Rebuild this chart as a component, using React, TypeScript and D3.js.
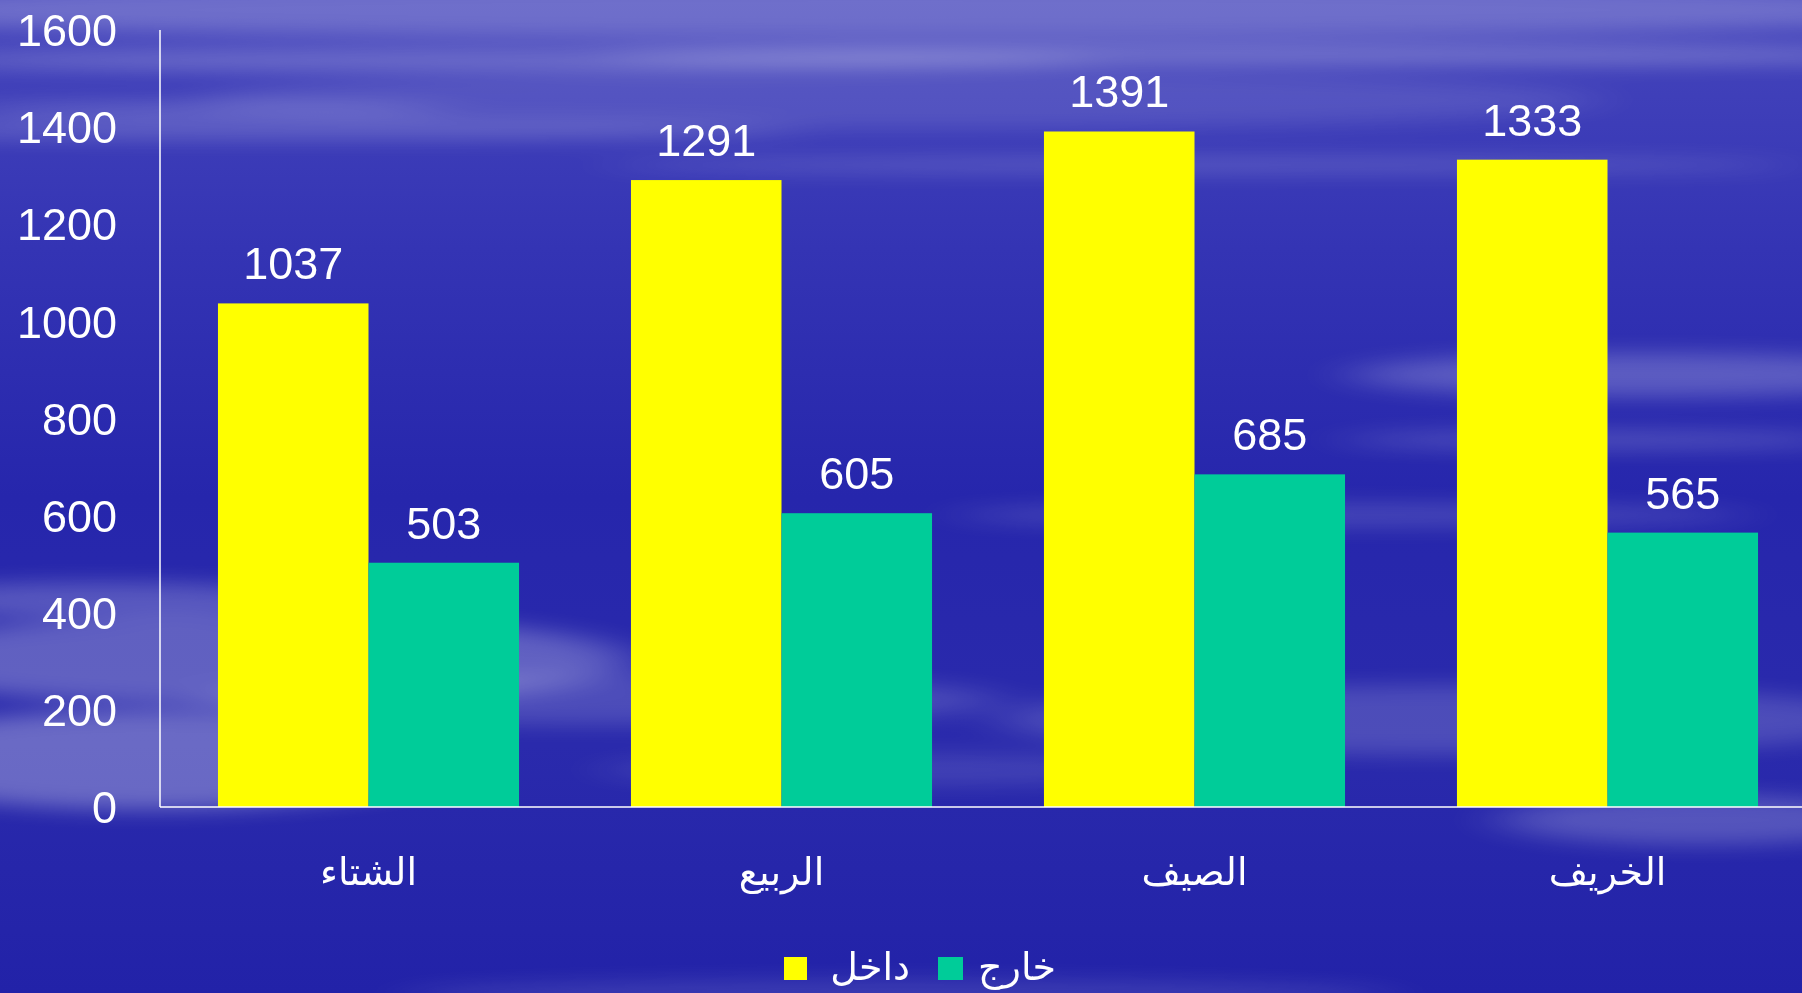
import React from "react";
import * as d3 from "d3";

const categories = ["الشتاء", "الربيع", "الصيف", "الخريف"];
const seriesNames = ["داخل", "خارج"];
const insideValues = [1037, 1291, 1391, 1333];
const outsideValues = [503, 605, 685, 565];
const yTicks = [0, 200, 400, 600, 800, 1000, 1200, 1400, 1600];
const seriesColors = ["#FFFF00", "#00CC99"];

const W = 1802;
const H = 993;

const clouds = [
  { cx: 900, cy: 10, rx: 1100, ry: 30, o: 0.3 },
  { cx: 500, cy: 60, rx: 600, ry: 10, o: 0.35 },
  { cx: 1300, cy: 55, rx: 700, ry: 9, o: 0.4 },
  { cx: 300, cy: 130, rx: 500, ry: 8, o: 0.3 },
  { cx: 1200, cy: 165, rx: 600, ry: 7, o: 0.25 },
  { cx: 200, cy: 110, rx: 250, ry: 6, o: 0.35 },
  { cx: 900, cy: 100, rx: 700, ry: 30, o: 0.15 },
  { cx: 1650, cy: 375, rx: 300, ry: 22, o: 0.3 },
  { cx: 1600, cy: 440, rx: 260, ry: 9, o: 0.25 },
  { cx: 1350, cy: 515, rx: 400, ry: 12, o: 0.2 },
  { cx: 250, cy: 660, rx: 380, ry: 45, o: 0.35 },
  { cx: 150, cy: 760, rx: 300, ry: 50, o: 0.4 },
  { cx: 600, cy: 700, rx: 400, ry: 25, o: 0.22 },
  { cx: 100, cy: 600, rx: 220, ry: 18, o: 0.3 },
  { cx: 1450, cy: 720, rx: 450, ry: 35, o: 0.22 },
  { cx: 1700, cy: 820, rx: 200, ry: 25, o: 0.28 },
  { cx: 900, cy: 770, rx: 300, ry: 16, o: 0.15 },
  { cx: 900, cy: 995, rx: 500, ry: 16, o: 0.15 },
];

export default function App() {
  const x0 = d3
    .scaleBand<string>()
    .domain(categories)
    .range([162, 162 + 4 * 413])
    .paddingInner(0.271)
    .paddingOuter(0.1355);
  const x1 = d3
    .scaleBand<number>()
    .domain([0, 1])
    .range([0, x0.bandwidth()])
    .padding(0);
  const y = d3.scaleLinear().domain([0, 1600]).range([807, 30]);
  const series = [insideValues, outsideValues];
  const font = "Arial, 'Liberation Sans', 'DejaVu Sans', sans-serif";

  return (
    <svg
      width={W}
      height={H}
      style={{ position: "absolute", left: 0, top: 0 }}
      fontFamily={font}
    >
      <defs>
        <linearGradient id="bg" x1="0" y1="0" x2="0" y2="1">
          <stop offset="0" stopColor="#4646bc" />
          <stop offset="0.25" stopColor="#3434b4" />
          <stop offset="0.5" stopColor="#2626ac" />
          <stop offset="0.75" stopColor="#2a2aac" />
          <stop offset="1" stopColor="#2222a8" />
        </linearGradient>
        <filter id="blur" x="-50%" y="-300%" width="200%" height="700%">
          <feGaussianBlur stdDeviation="30 10" />
        </filter>
      </defs>
      <rect x={0} y={0} width={W} height={H} fill="url(#bg)" />
      <g filter="url(#blur)">
        {clouds.map((c, i) => (
          <ellipse key={i} cx={c.cx} cy={c.cy} rx={c.rx} ry={c.ry} fill="#ffffff" opacity={c.o * 0.75} />
        ))}
      </g>

      {categories.map((cat, ci) =>
        series.map((vals, si) => {
          const bx = (x0(cat) as number) + (x1(si) as number);
          const v = vals[ci];
          return (
            <g key={cat + si}>
              <rect
                x={bx}
                y={y(v)}
                width={x1.bandwidth()}
                height={y(0) - y(v)}
                fill={seriesColors[si]}
              />
              <text
                x={bx + x1.bandwidth() / 2}
                y={y(v) - 24}
                textAnchor="middle"
                fontSize={45}
                fill="#ffffff"
              >
                {v}
              </text>
            </g>
          );
        })
      )}

      <line x1={160} x2={160} y1={30} y2={807} stroke="#ffffff" strokeWidth={1.5} />
      <line x1={160} x2={W} y1={807} y2={807} stroke="#ffffff" strokeWidth={1.5} />

      {yTicks.map((t) => (
        <text
          key={t}
          x={117}
          y={y(t)}
          dy="0.36em"
          textAnchor="end"
          fontSize={45}
          fill="#ffffff"
        >
          {t}
        </text>
      ))}

      {categories.map((cat) => (
        <text
          key={cat}
          x={(x0(cat) as number) + x0.bandwidth() / 2}
          y={885}
          textAnchor="middle"
          fontSize={38}
          fill="#ffffff"
          direction="rtl"
        >
          {cat}
        </text>
      ))}

      <g>
        <rect x={784} y={957} width={23} height={23} fill={seriesColors[0]} />
        <text x={870} y={980} textAnchor="middle" fontSize={38} fill="#ffffff" direction="rtl">
          {seriesNames[0]}
        </text>
        <rect x={938} y={957} width={25} height={23} fill={seriesColors[1]} />
        <text x={1017} y={980} textAnchor="middle" fontSize={38} fill="#ffffff" direction="rtl">
          {seriesNames[1]}
        </text>
      </g>
    </svg>
  );
}
